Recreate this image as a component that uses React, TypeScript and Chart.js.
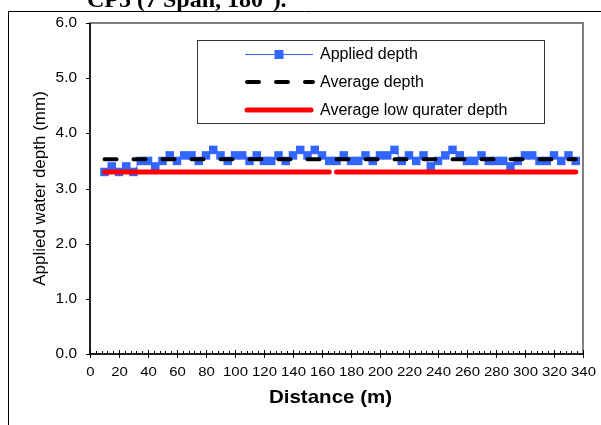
import React, { useEffect, useRef } from "react";
import { Chart, registerables } from "chart.js";

Chart.register(...registerables);

const titleText = "CP5 (7 Span, 180°).";
const xTitle = "Distance (m)";
const yTitle = "Applied water depth (mm)";
const legendLabels = ["Applied depth", "Average depth", "Average low qurater depth"];

const distances = [
  10, 15, 20, 25, 30, 35, 40, 45, 50, 55, 60, 65, 70, 75, 80, 85, 90, 95, 100, 105,
  110, 115, 120, 125, 130, 135, 140, 145, 150, 155, 160, 165, 170, 175, 180, 185, 190,
  195, 200, 205, 210, 215, 220, 225, 230, 235, 240, 245, 250, 255, 260, 265, 270, 275,
  280, 285, 290, 295, 300, 305, 310, 315, 320, 325, 330, 335,
];
const appliedDepth = [
  3.3, 3.4, 3.3, 3.4, 3.3, 3.5, 3.5, 3.4, 3.5, 3.6,
  3.5, 3.6, 3.6, 3.5, 3.6, 3.7, 3.6, 3.5, 3.6, 3.6,
  3.5, 3.6, 3.5, 3.5, 3.6, 3.5, 3.6, 3.7, 3.6, 3.7,
  3.6, 3.5, 3.5, 3.6, 3.5, 3.5, 3.6, 3.5, 3.6, 3.6,
  3.7, 3.5, 3.6, 3.5, 3.6, 3.4, 3.5, 3.6, 3.7, 3.6,
  3.5, 3.5, 3.6, 3.5, 3.5, 3.5, 3.4, 3.5, 3.6, 3.6,
  3.5, 3.5, 3.6, 3.5, 3.6, 3.5,
];
const averageDepth = 3.53;
const averageRange = [10, 335];
const lowQuarterDepth = 3.3;
const lowQuarterSegments = [
  [10, 165],
  [170, 335],
];

const xTicks = [0, 20, 40, 60, 80, 100, 120, 140, 160, 180, 200, 220, 240, 260, 280, 300, 320, 340];
const xMinorStep = 4;
const yTicks = [0, 1, 2, 3, 4, 5, 6];

const BLUE = "#3366FF";
const RED = "#FF0000";
const SANS = "'Liberation Sans', Arial, sans-serif";

function stretchedText(ctx: CanvasRenderingContext2D, text: string, x: number, y: number, sx: number) {
  ctx.save();
  ctx.translate(x, y);
  ctx.scale(sx, 1);
  ctx.fillText(text, 0, 0);
  ctx.restore();
}

const decor = {
  id: "decor",
  beforeDatasetsDraw(chart: any) {
    const { ctx, chartArea: a } = chart;
    const xs = chart.scales.x;
    const ys = chart.scales.y;
    ctx.save();
    // title (cut off at top)
    ctx.fillStyle = "#000";
    ctx.font = "bold 24px 'Liberation Serif', 'Times New Roman', serif";
    ctx.textAlign = "left";
    ctx.textBaseline = "alphabetic";
    ctx.fillText(titleText, 87, 6.5);
    // outer frame
    ctx.strokeStyle = "#000";
    ctx.lineWidth = 1;
    ctx.beginPath();
    ctx.moveTo(8.5, 425);
    ctx.lineTo(8.5, 11.5);
    ctx.lineTo(601, 11.5);
    ctx.stroke();
    // plot area border
    ctx.strokeStyle = "#808080";
    ctx.lineWidth = 2;
    ctx.strokeRect(a.left, a.top, a.right - a.left, a.bottom - a.top);
    // axes
    ctx.strokeStyle = "#000";
    ctx.lineWidth = 1.5;
    ctx.beginPath();
    ctx.moveTo(a.left, a.top);
    ctx.lineTo(a.left, a.bottom);
    ctx.lineTo(a.right, a.bottom);
    ctx.stroke();
    // y ticks + labels
    ctx.lineWidth = 1;
    ctx.font = `14px ${SANS}`;
    ctx.textAlign = "right";
    ctx.textBaseline = "middle";
    for (const v of yTicks) {
      const py = Math.round(ys.getPixelForValue(v)) + 0.5;
      ctx.beginPath();
      ctx.moveTo(a.left - 4, py);
      ctx.lineTo(a.left, py);
      ctx.stroke();
      stretchedText(ctx, v.toFixed(1), a.left - 13, py, 1.1);
    }
    // x minor ticks
    for (let v = xTicks[0]; v <= xTicks[xTicks.length - 1]; v += xMinorStep) {
      const px = Math.round(xs.getPixelForValue(v)) + 0.5;
      ctx.beginPath();
      ctx.moveTo(px, a.bottom - 3);
      ctx.lineTo(px, a.bottom);
      ctx.stroke();
    }
    // x major ticks + labels
    ctx.font = `13px ${SANS}`;
    ctx.textAlign = "center";
    for (const v of xTicks) {
      const px = Math.round(xs.getPixelForValue(v)) + 0.5;
      ctx.beginPath();
      ctx.moveTo(px, a.bottom - 4);
      ctx.lineTo(px, a.bottom + 4);
      ctx.stroke();
      stretchedText(ctx, String(v), px, a.bottom + 18, 1.15);
    }
    // axis titles
    ctx.font = `bold 19px ${SANS}`;
    ctx.textAlign = "center";
    stretchedText(ctx, xTitle, (a.left + a.right) / 2 - 6, 398, 1.08);
    ctx.save();
    ctx.translate(40, (a.top + a.bottom) / 2);
    ctx.rotate(-Math.PI / 2);
    ctx.font = `17px ${SANS}`;
    ctx.fillText(yTitle, 0, 0);
    ctx.restore();
    ctx.restore();
  },
  afterDraw(chart: any) {
    const { ctx } = chart;
    ctx.save();
    // legend box
    ctx.fillStyle = "#fff";
    ctx.fillRect(197, 40, 347, 83);
    ctx.strokeStyle = "#333";
    ctx.lineWidth = 1;
    ctx.strokeRect(197.5, 40.5, 347, 83);
    const rows = [54, 82, 110];
    const x0 = 245;
    const x1 = 313;
    // applied depth
    ctx.strokeStyle = BLUE;
    ctx.lineWidth = 1;
    ctx.beginPath();
    ctx.moveTo(x0, rows[0] + 0.5);
    ctx.lineTo(x1, rows[0] + 0.5);
    ctx.stroke();
    ctx.fillStyle = BLUE;
    ctx.fillRect((x0 + x1) / 2 - 4.5, rows[0] - 4, 9, 9);
    // average depth
    ctx.strokeStyle = "#000";
    ctx.lineWidth = 4;
    ctx.lineCap = "round";
    ctx.setLineDash([12, 17]);
    ctx.beginPath();
    ctx.moveTo(x0 + 2, rows[1]);
    ctx.lineTo(x1, rows[1]);
    ctx.stroke();
    ctx.setLineDash([]);
    // low quarter
    ctx.strokeStyle = RED;
    ctx.lineWidth = 5;
    ctx.beginPath();
    ctx.moveTo(x0 + 2, rows[2]);
    ctx.lineTo(x1 - 2, rows[2]);
    ctx.stroke();
    // texts
    ctx.fillStyle = "#000";
    ctx.font = `16px ${SANS}`;
    ctx.textAlign = "left";
    ctx.textBaseline = "middle";
    legendLabels.forEach((t, i) => ctx.fillText(t, 320, rows[i] + 1));
    ctx.restore();
  },
};

export default function App() {
  const ref = useRef<HTMLCanvasElement | null>(null);
  useEffect(() => {
    if (!ref.current) return;
    const lowData: any[] = [];
    lowQuarterSegments.forEach((seg, i) => {
      if (i > 0) lowData.push({ x: (lowQuarterSegments[i - 1][1] + seg[0]) / 2, y: null });
      lowData.push({ x: seg[0], y: lowQuarterDepth }, { x: seg[1], y: lowQuarterDepth });
    });
    const chart = new Chart(ref.current, {
      type: "line",
      data: {
        datasets: [
          {
            label: legendLabels[0],
            data: distances.map((d, i) => ({ x: d, y: appliedDepth[i] })),
            borderColor: BLUE,
            backgroundColor: BLUE,
            borderWidth: 1,
            pointStyle: "rect",
            pointRadius: 6,
            pointBorderWidth: 0,
            pointBackgroundColor: BLUE,
            tension: 0,
            order: 3,
          },
          {
            label: legendLabels[1],
            data: averageRange.map((d) => ({ x: d, y: averageDepth })),
            borderColor: "#000",
            borderWidth: 4,
            borderDash: [12, 17],
            borderCapStyle: "round",
            pointRadius: 0,
            order: 2,
          },
          {
            label: legendLabels[2],
            data: lowData,
            borderColor: RED,
            borderWidth: 5,
            borderCapStyle: "round",
            pointRadius: 0,
            spanGaps: false,
            order: 1,
          },
        ],
      },
      options: {
        responsive: false,
        animation: false,
        devicePixelRatio: 1,
        layout: { padding: { left: 90, right: 18, top: 23, bottom: 71 } },
        plugins: { legend: { display: false }, tooltip: { enabled: false }, title: { display: false } },
        scales: {
          x: { type: "linear", min: 0, max: 340, display: false },
          y: { type: "linear", min: 0, max: 6, display: false },
        },
      },
      plugins: [decor],
    } as any);
    return () => chart.destroy();
  }, []);
  return (
    <div style={{ position: "absolute", left: 0, top: 0, width: 601, height: 425, background: "#fff" }}>
      <canvas ref={ref} width={601} height={425} style={{ display: "block", width: 601, height: 425 }} />
    </div>
  );
}
